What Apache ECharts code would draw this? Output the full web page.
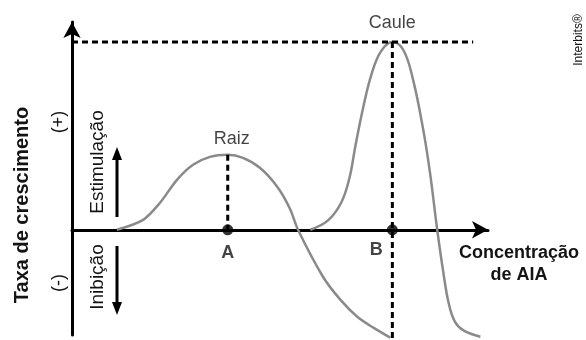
<!DOCTYPE html>
<html>
<head>
<meta charset="utf-8">
<script src="https://cdn.jsdelivr.net/npm/echarts@6/dist/echarts.min.js"></script>
<style>
  html, body { margin: 0; padding: 0; background: #fff; }
  #chart { width: 586px; height: 340px; }
</style>
</head>
<body>
<div id="chart"></div>
<script>
// curves: x = AIA concentration, y = growth rate (Caule peak = 100)
const raizCurve = [
  [10.6, 0], [16.8, 5.3], [20.8, 14.4], [24.8, 26.6], [28.6, 34.6], [32.6, 38.8],
  [36.8, 39.9], [40.4, 38.3], [44.4, 33.0], [48.5, 22.9], [51.5, 11.2], [53.4, 0],
  [59.3, -25.0], [63.4, -37.2], [67.4, -46.3], [71.2, -52.1], [75.2, -57.4]
]
const cauleCurve = [
  [56.3, 0], [60.5, 5], [63.6, 14.4], [65.5, 27], [67, 45], [68.8, 65], [70.8, 83],
  [73, 95], [75.7, 100], [78.3, 95.7], [80.6, 79.8], [83, 53.2], [84.6, 30.3],
  [86.3, 0], [87.7, -22], [89, -39], [90.5, -49], [92.5, -53.5], [96.5, -56.9]
]
const optimumNames = ['A', 'B']
const optimumX = [36.8, 75.7]
const optimumY = [39.9, 100]
const peakNames = ['Raiz', 'Caule']
const cauleGuideEnd = 94.8
const axisBottom = -60

const ink = '#141414'
const curveColor = '#8a8a8a'
const font = 'Arial, "Liberation Sans", sans-serif'

const chart = echarts.init(document.getElementById('chart'))

function dashed(data) {
  return {
    type: 'line',
    data,
    showSymbol: false,
    clip: false,
    silent: true,
    z: 3,
    lineStyle: { color: '#000', width: 3, type: [6, 4] }
  }
}

function arrow(x, y1, y2) {
  const dir = y2 < y1 ? -1 : 1
  return {
    type: 'group',
    children: [
      { type: 'line', shape: { x1: x, y1, x2: x, y2: y2 - dir * 10 }, style: { stroke: '#000', lineWidth: 3 } },
      { type: 'polygon', shape: { points: [[x - 5, y2 - dir * 13], [x + 5, y2 - dir * 13], [x, y2]] }, style: { fill: '#000' } }
    ]
  }
}

function vText(text, x, y, size, bold) {
  return {
    type: 'text',
    x, y,
    rotation: Math.PI / 2,
    style: {
      text,
      font: (bold ? 'bold ' : '') + size + 'px ' + font,
      fill: ink,
      align: 'center',
      verticalAlign: 'middle'
    }
  }
}

chart.setOption({
  animation: false,
  grid: { left: 72, right: 98, top: 22, bottom: 5 },
  xAxis: {
    type: 'value',
    min: 0,
    max: 98.3,
    axisLine: {
      onZero: true,
      symbol: ['none', 'arrow'],
      symbolSize: [13, 16],
      lineStyle: { color: '#000', width: 3 }
    },
    axisTick: { show: false },
    axisLabel: { show: false },
    splitLine: { show: false }
  },
  yAxis: {
    type: 'value',
    min: -56,
    max: 110.6,
    axisLine: {
      show: true,
      symbol: ['none', 'arrow'],
      symbolSize: [13, 16],
      lineStyle: { color: '#000', width: 3 }
    },
    axisTick: { show: false },
    axisLabel: { show: false },
    splitLine: { show: false }
  },
  series: [
    dashed([[0, optimumY[1]], [cauleGuideEnd, optimumY[1]]]),
    dashed([[optimumX[1], optimumY[1]], [optimumX[1], axisBottom]]),
    dashed([[optimumX[0], optimumY[0]], [optimumX[0], 0]]),
    {
      type: 'line',
      data: raizCurve,
      smooth: 0.3,
      showSymbol: false,
      clip: false,
      z: 2,
      lineStyle: { color: curveColor, width: 2.5 }
    },
    {
      type: 'line',
      data: cauleCurve,
      smooth: 0.4,
      showSymbol: false,
      clip: false,
      z: 2,
      lineStyle: { color: curveColor, width: 2.5 }
    },
    {
      type: 'scatter',
      symbolSize: 11,
      z: 5,
      itemStyle: { color: '#000' },
      label: {
        show: true,
        position: 'bottom',
        distance: 9,
        formatter: '{b}',
        color: ink,
        textBorderWidth: 0,
        fontFamily: font,
        fontWeight: 'bold',
        fontSize: 18
      },
      data: optimumNames.map((name, i) => ({
        name,
        value: [optimumX[i], 0],
        label: i === 1 ? { offset: [-16, -3] } : {}
      }))
    },
    {
      type: 'scatter',
      symbolSize: 0,
      z: 5,
      label: {
        show: true,
        position: 'top',
        formatter: '{b}',
        color: ink,
        textBorderWidth: 0,
        fontFamily: font,
        fontSize: 18
      },
      data: peakNames.map((name, i) => ({
        name,
        value: [optimumX[i], optimumY[i]],
        label: i === 0 ? { distance: 7, offset: [4, 0] } : { distance: 10 }
      }))
    }
  ],
  graphic: [
    vText('Taxa de crescimento', 22, 205, 20, true),
    vText('(+)', 59, 122, 18, false),
    vText('(-)', 59, 283, 18, false),
    vText('Estimulação', 98, 162, 19, false),
    vText('Inibição', 98, 277, 19, false),
    vText('Interbits®', 579, 40, 12, false),
    arrow(117, 217, 147),
    arrow(117, 246, 315),
    {
      type: 'text',
      x: 519, y: 264,
      style: {
        text: 'Concentração\nde AIA',
        font: 'bold 18px ' + font,
        lineHeight: 22,
        fill: ink,
        align: 'center',
        verticalAlign: 'middle'
      }
    }
  ]
})
</script>
</body>
</html>
